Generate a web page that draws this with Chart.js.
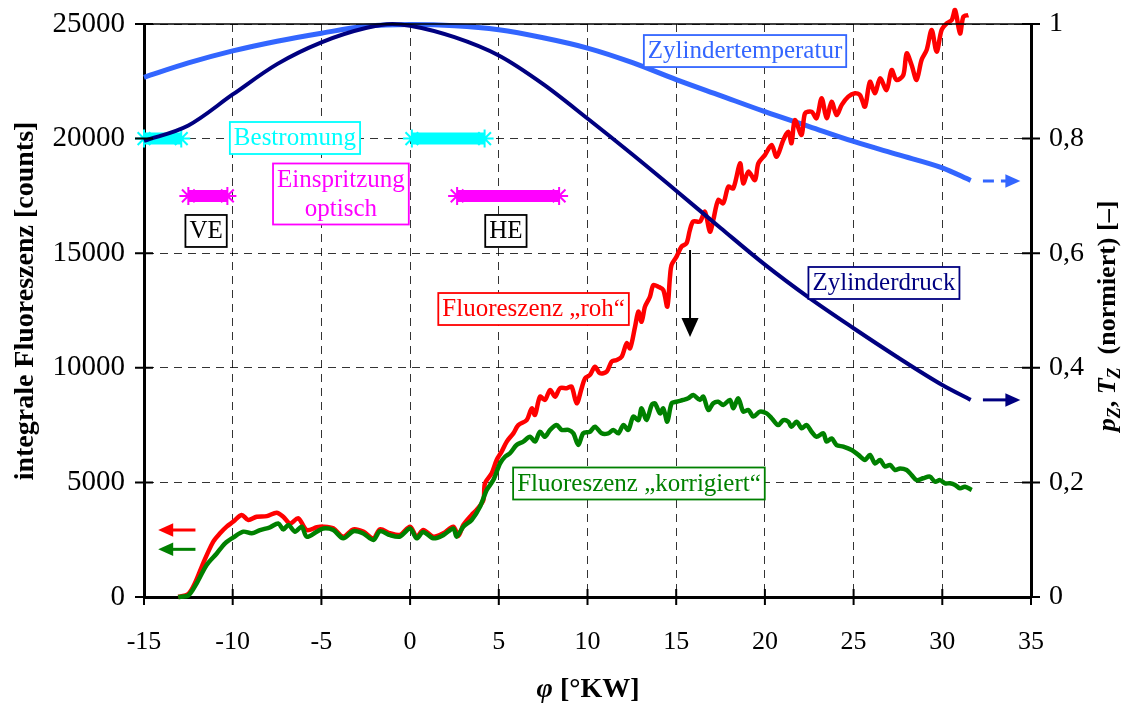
<!DOCTYPE html>
<html>
<head>
<meta charset="utf-8">
<script src="https://cdn.jsdelivr.net/npm/chart.js@4/dist/chart.umd.min.js"></script>
<style>
body{margin:0;background:#fff;}
canvas{display:block;}
</style>
</head>
<body>
<canvas id="myChart" width="1136" height="704"></canvas>
<script>
// Achsen / Ticks
const phiTicks = [-15,-10,-5,0,5,10,15,20,25,30,35];
const countTicks = [0,5000,10000,15000,20000,25000];
const normTicks = [0,0.2,0.4,0.6,0.8,1];
const normTickLabels = ['0','0,2','0,4','0,6','0,8','1'];

// Fluoreszenz "roh" [counts]
const rohPhi = [-13.07,-12.5,-12.13,-11.66,-11.1,-10.7,-10.34,-9.96,-9.5,-9.12,-8.65,-8.08,-7.52,-7.15,-6.77,-6.3,-5.83,-5.26,-4.89,-4.33,
  -3.77,-3.2,-2.64,-2.07,-1.7,-1.13,-0.57,0.0,0.37,0.74,1.31,1.87,2.44,2.72,3.0,3.47,3.75,4.13,4.22,4.6,
  4.88,5.16,5.45,5.82,6.1,6.57,6.86,7.04,7.32,7.6,7.89,8.17,8.45,8.83,9.1,9.39,9.67,9.86,10.14,10.42,
  10.7,11.08,11.36,11.64,11.93,12.21,12.4,12.68,12.87,13.05,13.24,13.52,13.71,13.99,14.27,14.5,14.65,14.74,15.02,15.3,
  15.58,15.77,15.96,16.34,16.62,16.9,17.09,17.37,17.65,17.94,18.22,18.6,18.78,19.07,19.44,19.63,20.0,20.38,20.66,21.04,
  21.32,21.5,21.69,22.07,22.26,22.63,22.91,23.2,23.48,23.76,24.04,24.33,24.7,25.08,25.36,25.64,25.92,26.21,26.49,26.86,
  27.14,27.42,27.8,27.99,28.27,28.55,28.83,29.12,29.4,29.68,29.96,30.25,30.53,30.72,31.0,31.19,31.47];
const rohCounts = [0,130,600,1480,2410,2790,3070,3290,3580,3360,3500,3530,3680,3500,3210,3430,2920,3040,3070,3000,
  2630,2950,2850,2560,2950,2780,2710,3070,2630,2920,2630,2780,3070,2660,3140,3580,3800,4230,4960,5400,
  5980,6340,6780,7140,7500,7720,8230,7940,8740,8600,9030,8740,9110,9110,9180,8450,9110,9540,9690,10050,
  9760,9830,10270,10340,10490,11070,10850,11790,12450,12010,12670,13100,13610,13540,13400,12670,13970,14490,14850,15290,
  15430,16010,16380,16380,16810,15940,16450,17320,17180,17900,17830,18920,18050,18560,18190,18920,19280,19720,19210,19940,
  20300,19800,20810,20160,21100,21170,20890,21760,20890,21610,21030,21470,21830,21980,21900,21390,22480,21980,22630,22120,
  22990,22560,22770,23720,23210,22560,23430,23870,24740,23790,24740,25030,25170,25610,24590,25320,25390];

// Fluoreszenz "korrigiert" [counts]
const korrPhi = [-13.07,-12.5,-12.03,-11.47,-10.9,-10.43,-9.96,-9.4,-8.93,-8.46,-7.9,-7.43,-7.15,-6.86,-6.49,-6.11,-5.83,-5.26,-4.89,-4.33,
  -3.77,-3.2,-2.64,-2.07,-1.7,-1.13,-0.57,0.0,0.37,0.74,1.31,1.87,2.44,2.62,3.0,3.47,3.94,4.32,4.69,5.07,
  5.35,5.63,6.0,6.38,6.76,7.04,7.32,7.6,7.89,8.26,8.54,8.92,9.2,9.48,9.76,10.14,10.42,10.8,11.17,11.46,
  11.74,12.02,12.3,12.58,12.87,13.05,13.33,13.62,13.8,14.09,14.27,14.5,14.74,15.02,15.4,15.68,15.96,16.34,16.53,16.81,
  17.09,17.37,17.65,18.03,18.22,18.5,18.78,19.07,19.35,19.72,20.1,20.38,20.75,21.04,21.32,21.5,21.79,22.07,22.35,22.63,
  22.91,23.29,23.48,23.76,24.04,24.42,24.89,25.27,25.64,25.92,26.21,26.49,26.77,27.05,27.34,27.62,27.99,28.27,28.55,28.92,
  29.3,29.59,29.87,30.15,30.43,30.72,31.0,31.28,31.66];
const korrCounts = [0,70,600,1400,1900,2340,2600,2850,2780,2920,3040,3210,2950,3140,2850,3070,2630,2850,2990,2920,
  2560,2870,2770,2490,2870,2700,2640,2990,2560,2840,2560,2700,2990,2630,3070,3360,3940,4670,5100,5830,
  6120,6270,6630,6780,6990,6780,7210,6990,7290,7500,7290,7290,7140,6630,7140,7210,7430,7140,7140,7290,
  7140,7500,7290,7870,7720,8230,7720,8380,8450,8010,8230,7650,8450,8520,8600,8670,8810,8600,8740,8160,
  8450,8520,8380,8600,8230,8670,8090,8160,7870,8090,8010,7800,7500,7720,7650,7430,7650,7360,7500,7210,
  6990,7140,6780,6920,6630,6560,6410,6200,5980,6200,5830,5980,5690,5760,5540,5610,5540,5320,5100,5180,
  5250,5030,5100,4960,4960,4890,4740,4810,4670];

// Zylindertemperatur / Zylinderdruck (normiert)
const tempPhi = [-15,-12.5,-10,-7.5,-5,-2.5,0,2.5,5,7.5,10,12.5,15,17.5,20,22.5,25,27.5,30,31.6];
const tempNorm = [0.907,0.932,0.953,0.970,0.984,0.996,0.999,0.997,0.990,0.976,0.958,0.933,0.903,0.875,0.847,0.821,0.795,0.772,0.749,0.727];
const druckPhi = [-15,-12.5,-10,-7.5,-5,-2.5,-1,0,2.5,5,7.5,10,12.5,15,17.5,20,22.5,25,27.5,30,31.6];
const druckNorm = [0.796,0.823,0.877,0.930,0.968,0.993,1.0,0.997,0.977,0.945,0.895,0.835,0.773,0.709,0.644,0.580,0.522,0.469,0.418,0.370,0.344];

// Bestromung / Einspritzung (Zeitfenster in °KW)
const bestromungStart = [-15, 0.1];
const bestromungEnd = [-12.9, 4.2];
const bestromungLevel = 20000;
const einspritzStart = [-12.5, 2.65];
const einspritzEnd = [-10.3, 8.4];
const einspritzLevel = 17500;

const RED = '#FF0000', GREEN = '#008000', NAVY = '#000080', TEMP = '#3366FF', CYAN = '#00FFFF', MAGENTA = '#FF00FF';
const SERIF = '"Liberation Serif", "Times New Roman", serif';

const pts = (xs, ys) => xs.map((v, i) => ({x: v, y: ys[i]}));
const windows = (st, en, lvl) => st.flatMap((s, i) => [{x: s, y: lvl}, {x: en[i], y: lvl}, {x: en[i], y: null}]);

const notes = [
  {text: ['Zylindertemperatur'], phi: 18.88, counts: 23820, color: TEMP},
  {text: ['Zylinderdruck'], phi: 26.71, counts: 13700, color: NAVY},
  {text: ['Fluoreszenz \u201Eroh\u201C'], phi: 6.96, counts: 12565, color: RED},
  {text: ['Fluoreszenz \u201Ekorrigiert\u201C'], phi: 12.9, counts: 4952, color: GREEN},
  {text: ['Bestromung'], phi: -6.49, counts: 20026, color: CYAN},
  {text: ['Einspritzung', 'optisch'], phi: -3.9, counts: 17583, color: MAGENTA},
  {text: ['VE'], phi: -11.5, counts: 15970, color: '#000'},
  {text: ['HE'], phi: 5.4, counts: 15970, color: '#000'}
];

function arrow(ctx, x1, y1, x2, y2, color, lw, head, dash) {
  const a = Math.atan2(y2 - y1, x2 - x1);
  ctx.save();
  ctx.strokeStyle = color; ctx.fillStyle = color; ctx.lineWidth = lw;
  if (dash) ctx.setLineDash(dash);
  ctx.beginPath();
  ctx.moveTo(x1, y1);
  ctx.lineTo(x2 - Math.cos(a) * head * 0.9, y2 - Math.sin(a) * head * 0.9);
  ctx.stroke();
  ctx.setLineDash([]);
  ctx.beginPath();
  ctx.moveTo(x2, y2);
  ctx.lineTo(x2 - Math.cos(a) * head + Math.sin(a) * head * 0.45, y2 - Math.sin(a) * head - Math.cos(a) * head * 0.45);
  ctx.lineTo(x2 - Math.cos(a) * head - Math.sin(a) * head * 0.45, y2 - Math.sin(a) * head + Math.cos(a) * head * 0.45);
  ctx.closePath();
  ctx.fill();
  ctx.restore();
}

function richText(ctx, parts, cx, cy, rot) {
  ctx.save();
  ctx.translate(cx, cy);
  ctx.rotate(rot);
  ctx.fillStyle = '#000';
  ctx.textAlign = 'left';
  ctx.textBaseline = 'middle';
  let total = 0;
  parts.forEach(p => { ctx.font = p.font; p.w = ctx.measureText(p.t).width; total += p.w; });
  let x = -total / 2;
  parts.forEach(p => { ctx.font = p.font; ctx.fillText(p.t, x, p.dy || 0); x += p.w; });
  ctx.restore();
}

const deko = {
  id: 'deko',
  afterDraw(chart) {
    const {ctx, chartArea: ca, scales: {x, y, y2}} = chart;
    ctx.save();
    // obere Rahmenlinie
    ctx.strokeStyle = '#000'; ctx.lineWidth = 1.5;
    ctx.beginPath(); ctx.moveTo(ca.left, ca.top); ctx.lineTo(ca.right, ca.top); ctx.stroke();
    // Teilstriche quer zur Achse
    ctx.lineWidth = 2;
    ctx.beginPath();
    countTicks.forEach(v => { const py = y.getPixelForValue(v); ctx.moveTo(ca.left - 9, py); ctx.lineTo(ca.left + 9, py); });
    normTicks.forEach(v => { const py = y2.getPixelForValue(v); ctx.moveTo(ca.right - 9, py); ctx.lineTo(ca.right + 9, py); });
    phiTicks.forEach(v => { const px = x.getPixelForValue(v); ctx.moveTo(px, ca.bottom - 8); ctx.lineTo(px, ca.bottom + 8); });
    ctx.stroke();

    // Beschriftungskästen
    ctx.font = '25px ' + SERIF;
    ctx.textAlign = 'center'; ctx.textBaseline = 'middle';
    notes.forEach(n => {
      const cx = x.getPixelForValue(n.phi), cy = y.getPixelForValue(n.counts);
      const w = Math.max(...n.text.map(t => ctx.measureText(t).width)) + 8;
      const lh = 29, h = n.text.length * lh + 3;
      ctx.fillStyle = '#fff';
      ctx.fillRect(cx - w / 2, cy - h / 2, w, h);
      ctx.strokeStyle = n.color; ctx.lineWidth = 1.8;
      ctx.strokeRect(cx - w / 2, cy - h / 2, w, h);
      ctx.fillStyle = n.color;
      n.text.forEach((t, i) => ctx.fillText(t, cx, cy - h / 2 + 2 + lh * (i + 0.5)));
    });

    // Pfeile
    arrow(ctx, x.getPixelForValue(15.78), y.getPixelForValue(15140), x.getPixelForValue(15.78), y.getPixelForValue(11340), '#000', 2, 19);
    arrow(ctx, x.getPixelForValue(32.29), y2.getPixelForValue(0.726), x.getPixelForValue(34.4), y2.getPixelForValue(0.726), TEMP, 3, 15, [11, 7]);
    arrow(ctx, x.getPixelForValue(32.29), y2.getPixelForValue(0.344), x.getPixelForValue(34.4), y2.getPixelForValue(0.344), NAVY, 3, 15);
    arrow(ctx, x.getPixelForValue(-12.1), y.getPixelForValue(2923), x.getPixelForValue(-14.2), y.getPixelForValue(2923), RED, 3, 15);
    arrow(ctx, x.getPixelForValue(-12.1), y.getPixelForValue(2080), x.getPixelForValue(-14.2), y.getPixelForValue(2080), GREEN, 3, 15);

    // Achsentitel
    const B = 'bold 28px ' + SERIF, BI = 'italic bold 28px ' + SERIF;
    const B2 = 'bold 26px ' + SERIF, BI2 = 'italic bold 26px ' + SERIF, SUB = 'italic bold 18px ' + SERIF;
    richText(ctx, [{t: 'integrale Fluoreszenz [counts]', font: B}], 26, 301, -Math.PI / 2);
    richText(ctx, [{t: '\u03C6', font: BI}, {t: ' [\u00B0KW]', font: B}], 588, 690, 0);
    richText(ctx, [
      {t: 'p', font: BI2}, {t: 'Z', font: SUB, dy: 7}, {t: ', ', font: B2},
      {t: 'T', font: BI2}, {t: 'Z', font: SUB, dy: 7}, {t: '  (normiert) [\u2013]', font: B2}
    ], 1108, 316, -Math.PI / 2);
    ctx.restore();
  }
};

const noPadV = s => { s.paddingTop = 0; s.paddingBottom = 0; };

const ctx = document.getElementById('myChart').getContext('2d');
const myChart = new Chart(ctx, {
  type: 'line',
  data: {
    datasets: [
      {label: 'Zylinderdruck', data: pts(druckPhi, druckNorm), yAxisID: 'y2', borderColor: NAVY, borderWidth: 4, pointRadius: 0, cubicInterpolationMode: 'monotone', clip: false},
      {label: 'Fluoreszenz korrigiert', data: pts(korrPhi, korrCounts), yAxisID: 'y', borderColor: GREEN, borderWidth: 4.5, pointRadius: 0, tension: 0.3, clip: false},
      {label: 'Fluoreszenz roh', data: pts(rohPhi, rohCounts), yAxisID: 'y', borderColor: RED, borderWidth: 4.5, pointRadius: 0, tension: 0.3, clip: false},
      {label: 'Zylindertemperatur', data: pts(tempPhi, tempNorm), yAxisID: 'y2', borderColor: TEMP, borderWidth: 5, pointRadius: 0, cubicInterpolationMode: 'monotone', clip: false},
      {label: 'Einspritzung', data: windows(einspritzStart, einspritzEnd, einspritzLevel), yAxisID: 'y', borderColor: MAGENTA, backgroundColor: MAGENTA, borderWidth: 12, borderCapStyle: 'butt', pointStyle: 'star', pointRadius: 9, pointBorderWidth: 2, pointBorderColor: MAGENTA, spanGaps: false, clip: false},
      {label: 'Bestromung', data: windows(bestromungStart, bestromungEnd, bestromungLevel), yAxisID: 'y', borderColor: CYAN, backgroundColor: CYAN, borderWidth: 12, borderCapStyle: 'butt', pointStyle: 'star', pointRadius: 9, pointBorderWidth: 2, pointBorderColor: CYAN, spanGaps: false, clip: false}
    ]
  },
  options: {
    responsive: false,
    animation: false,
    events: [],
    layout: {padding: {top: 24, left: 0, right: 0, bottom: 0}},
    plugins: {legend: {display: false}, tooltip: {enabled: false}},
    scales: {
      x: {
        type: 'linear', min: -15, max: 35,
        afterFit: s => { s.height = 107; s.paddingLeft = 0; s.paddingRight = 0; },
        afterBuildTicks: s => { s.ticks = phiTicks.map(v => ({value: v})); },
        grid: {color: 'rgba(0,0,0,0.8)', lineWidth: 1, drawTicks: false},
        border: {color: '#000', width: 3, dash: [8, 6]},
        ticks: {color: '#000', padding: 30, maxRotation: 0, font: {family: SERIF, size: 26}, callback: v => String(v)}
      },
      y: {
        position: 'left', min: 0, max: 25000,
        afterFit: s => { s.width = 144; noPadV(s); },
        afterBuildTicks: s => { s.ticks = countTicks.map(v => ({value: v})); },
        grid: {color: 'rgba(0,0,0,0.8)', lineWidth: 1, drawTicks: false},
        border: {color: '#000', width: 3, dash: [8, 6]},
        ticks: {color: '#000', padding: 19, font: {family: SERIF, size: 29}, callback: v => String(v)}
      },
      y2: {
        position: 'right', min: 0, max: 1,
        afterFit: s => { s.width = 105; noPadV(s); },
        afterBuildTicks: s => { s.ticks = normTicks.map(v => ({value: v})); },
        grid: {drawOnChartArea: false, drawTicks: false},
        border: {color: '#000', width: 3},
        ticks: {color: '#000', padding: 18, font: {family: SERIF, size: 28}, callback: (v, i) => normTickLabels[i]}
      }
    }
  },
  plugins: [deko]
});
</script>
</body>
</html>
